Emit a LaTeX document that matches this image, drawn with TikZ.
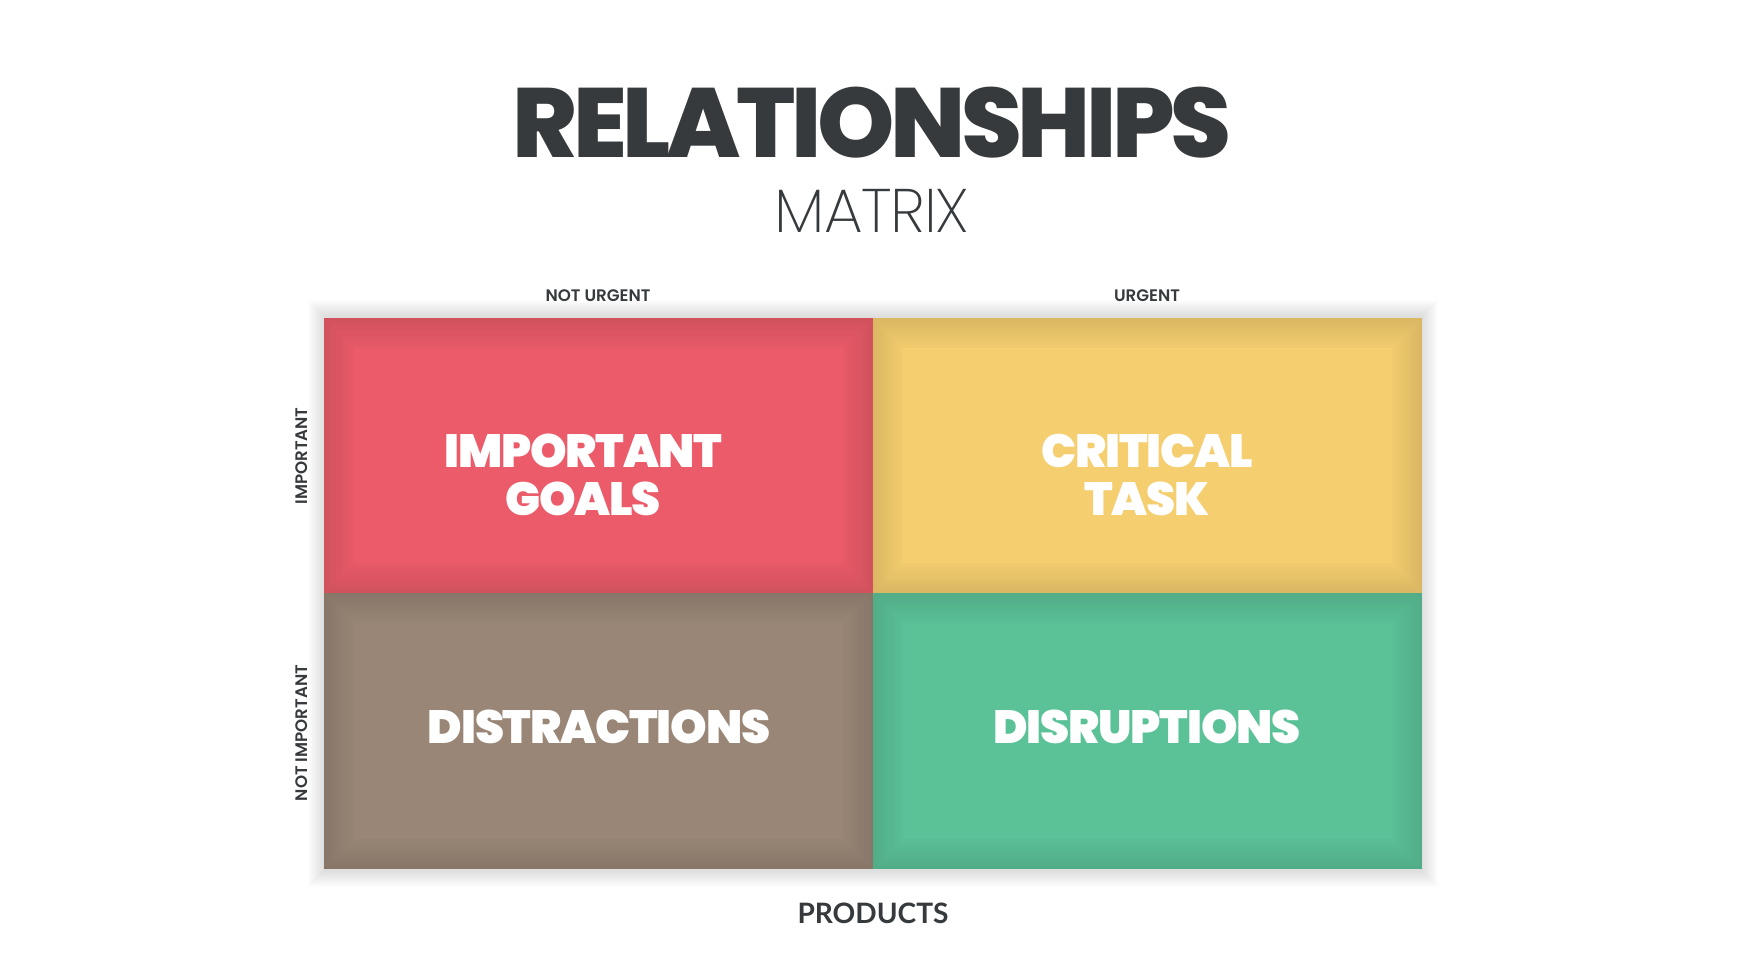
\documentclass[tikz,border=0pt]{standalone}
\usepackage{fontspec}
\setmainfont{Poppins}
\newfontfamily\heavyfont{Poppins ExtraBold}[LetterSpace=-4.5]
\newfontfamily\cellfont{Poppins Black}[LetterSpace=-2.5]
\newfontfamily\lightfont{Poppins ExtraLight}[LetterSpace=-2]
\newfontfamily\labelfont{Poppins SemiBold}
\newfontfamily\axisfont{Lato}
\definecolor{ink}{HTML}{363A3D}
\definecolor{goalred}{HTML}{EB5B69}
\definecolor{taskyellow}{HTML}{F5CE6F}
\definecolor{distbrown}{HTML}{998676}
\definecolor{disrgreen}{HTML}{5BC298}
\tikzset{
  quadlabel/.style={text=white, align=center, inner sep=0pt,
    font=\cellfont\fontsize{26.5}{27}\selectfont},
  axislabel/.style={text=ink, inner sep=0pt,
    font=\labelfont\fontsize{9.5}{11}\selectfont},
}
\begin{document}
\begin{tikzpicture}[x=0.02cm,y=-0.02cm]
  \def\xl{324}\def\xm{873}\def\xr{1422}\def\yt{318}\def\ym{593}\def\yb{869}
  \useasboundingbox (0,0) rectangle (1742,980);
  % soft shadow round the grid
  \foreach \i in {1,...,16}
    \fill[black,opacity=0.007] (\xl-\i,\yt-\i-2) rectangle (\xr+\i,\yb+\i+2);
  % four cells, a little darker towards their edges
  \foreach \ax/\ay/\bx/\by/\cc in {324/318/873/593/goalred,873/318/1422/593/taskyellow,324/593/873/869/distbrown,873/593/1422/869/disrgreen}{
    \foreach \i in {0,...,10}{
      \pgfmathtruncatemacro\pc{89+1.1*\i}
      \fill[\cc!\pc!black] (\ax+3*\i,\ay+3*\i) rectangle (\bx-3*\i,\by-3*\i);
    }
  }
  % titles
  \node[text=ink, inner sep=0pt, font=\heavyfont\fontsize{56}{60}\selectfont] (title) at (872,123) {RELATIONSHIPS};
  \node[text=ink, inner sep=0pt, font=\lightfont\fontsize{35}{40}\selectfont] (sub) at (872,211) {MATRIX};
  % axis labels
  \node[axislabel] (noturg) at (598,296) {NOT URGENT};
  \node[axislabel] (urg) at (1147,296) {URGENT};
  \node[axislabel,rotate=90] (imp) at (302,456) {IMPORTANT};
  \node[axislabel,rotate=90] (notimp) at (302,733) {NOT IMPORTANT};
  \node[text=ink, inner sep=0pt, font=\axisfont\bfseries\fontsize{16}{20}\selectfont] (prod) at (873,913) {PRODUCTS};
  % cell texts
  \node[quadlabel] (goals) at (583,475) {IMPORTANT\\GOALS};
  \node[quadlabel] (task) at (1147,475) {CRITICAL\\TASK};
  \node[quadlabel] (distr) at (599,727) {DISTRACTIONS};
  \node[quadlabel] (disr) at (1147,727) {DISRUPTIONS};
\end{tikzpicture}
\end{document}
